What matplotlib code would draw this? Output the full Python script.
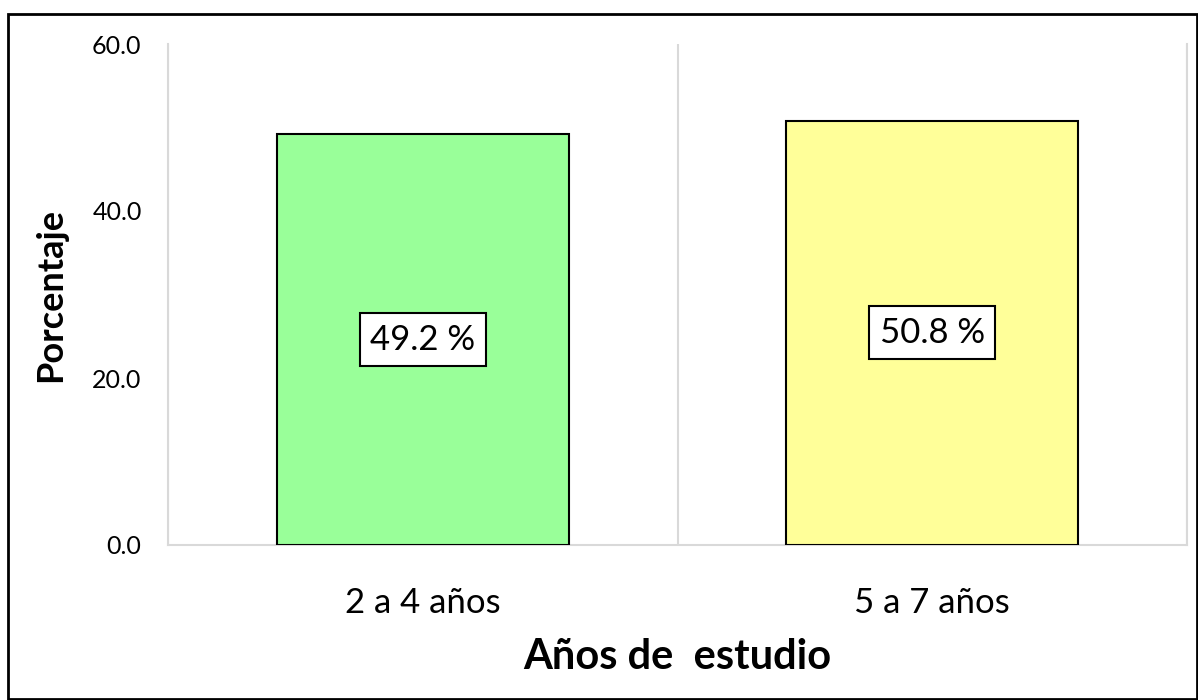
import matplotlib
matplotlib.use('Agg')
import matplotlib.pyplot as plt
from matplotlib.patches import Rectangle
import numpy as np

# datos
categorias = ['2 a 4 años', '5 a 7 años']
porcentajes = [49.2, 50.8]
colores = ['#99FF99', '#FFFF99']
yticks = [0.0, 20.0, 40.0, 60.0]

plt.rcParams['font.family'] = ['Lato', 'DejaVu Sans']

fig = plt.figure(figsize=(11.98, 7.0), dpi=100)
ax = fig.add_axes([168 / 1198, 1 - 545 / 700, (1187 - 168) / 1198, (545 - 44) / 700])

x = np.arange(len(categorias))
bars = ax.bar(x, porcentajes, width=0.573, color=colores, edgecolor='black', linewidth=1.5, zorder=3)

# etiquetas dentro de las barras
for xi, v in zip(x, porcentajes):
    ax.text(xi, v / 2, f'{v:.1f} %', ha='center', va='center', fontsize=25, zorder=4,
            bbox=dict(boxstyle='square,pad=0.3', facecolor='white', edgecolor='black', linewidth=1.5))

ax.set_xlim(-0.5, len(categorias) - 0.5)
ax.set_ylim(0, 60)
ax.set_yticks(yticks)
ax.set_yticklabels([f'{t:.1f}' for t in yticks], fontsize=18)
ax.set_xticks(x)
ax.set_xticklabels(categorias, fontsize=25)
ax.tick_params(axis='both', length=0)
ax.tick_params(axis='y', pad=19)
ax.tick_params(axis='x', pad=30)

# lineas divisorias entre categorias
ax.set_xticks(np.arange(len(categorias) + 1) - 0.5, minor=True)
ax.tick_params(axis='x', which='minor', length=0)
ax.grid(axis='x', which='minor', color='#D9D9D9', linewidth=1.5, zorder=0)
ax.grid(axis='x', which='major', visible=False)

ax.spines['top'].set_visible(False)
for s in ['left', 'right', 'bottom']:
    ax.spines[s].set_color('#D9D9D9')
    ax.spines[s].set_linewidth(1.5)

ax.set_ylabel('Porcentaje', fontsize=26, fontweight='bold', labelpad=18)
ax.set_xlabel('Años de  estudio', fontsize=30, fontweight='bold', labelpad=14)

# borde del grafico
fig.patches.append(Rectangle((8 / 1198, 0.001), 1 - 8 / 1198 - 0.001, 1 - 14 / 700 - 0.001,
                             transform=fig.transFigure, fill=False, edgecolor='black', linewidth=2))

fig.savefig('out.png', dpi=100)
